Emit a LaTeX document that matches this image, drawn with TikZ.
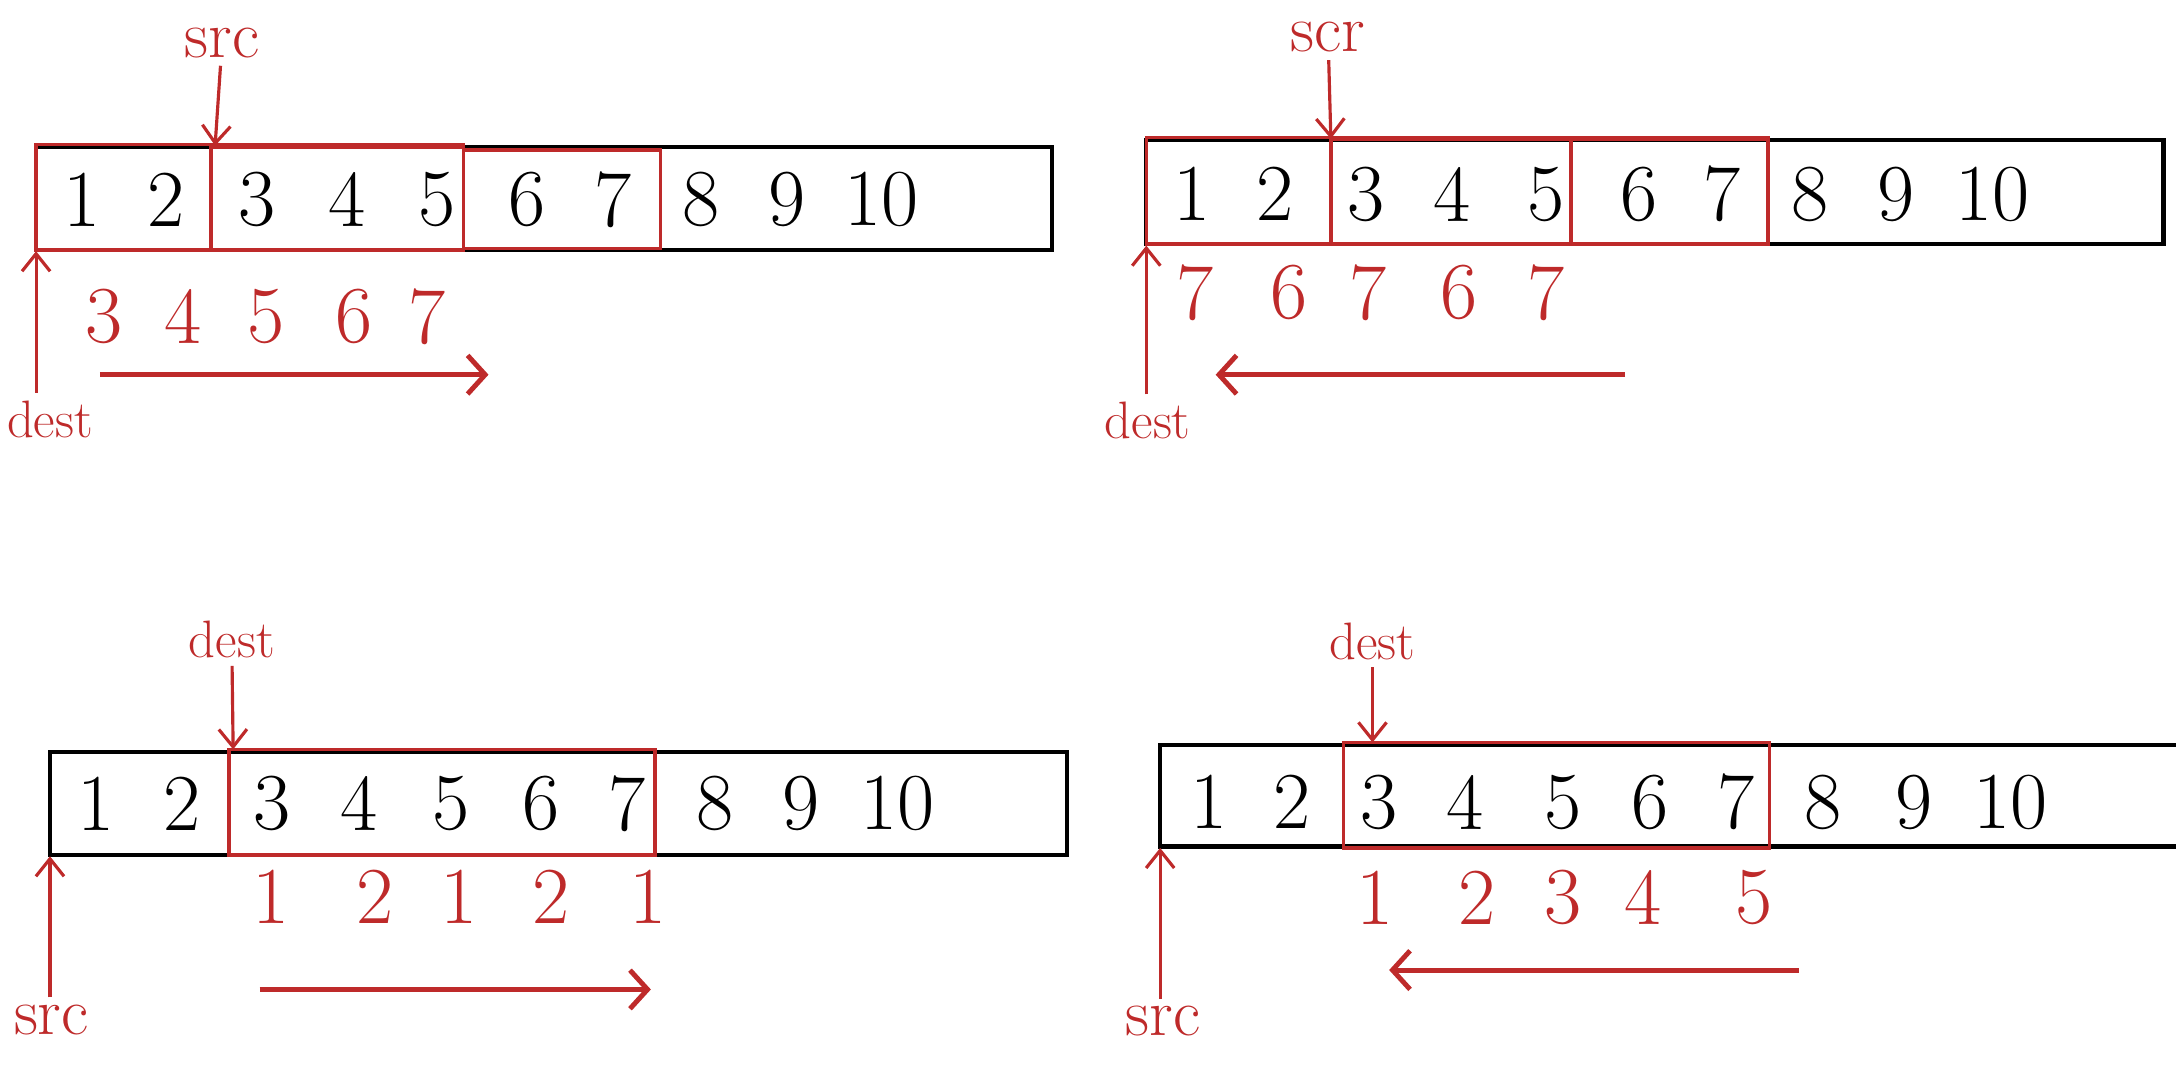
\documentclass[tikz,border=0pt]{standalone}
\usetikzlibrary{arrows.meta}
\definecolor{pen}{RGB}{190,42,42}
\begin{document}
\begin{tikzpicture}[x=0.013878cm,y=-0.013878cm,
  cellbox/.style={draw=black, line width=1.2pt},
  hl/.style={draw=pen, line width=1pt},
  num/.style={font=\fontsize{23}{27}\selectfont, inner sep=0pt},
  rnum/.style={num, text=pen},
  lbl/.style={font=\fontsize{19}{22}\selectfont, text=pen, inner sep=2pt},
  dlbl/.style={lbl, font=\fontsize{15}{18}\selectfont},
  ptr/.style={draw=pen, line width=0.9pt, -{Straight Barb[length=5pt,width=8pt]}},
  flow/.style={draw=pen, line width=1.4pt, -{Straight Barb[length=5pt,width=11pt]}}]
\useasboundingbox (0,0) rectangle (1568,778.2);

% ---------- panel 1 ----------
\draw[cellbox] (26,106) rectangle (758,180);
\draw[hl] (26,104) rectangle (334,180);
\draw[hl] (152,106) rectangle (334,180);
\draw[hl] (334,108) rectangle (476,179);
\foreach \x/\t [count=\i] in {59/1,120/2,185/3,250/4,315/5,380/6,442/7,505/8,567/9,635/10}
  \node[num] (pa\i) at (\x,144) {\t};
\node[lbl] (pasrc) at (160,31) {src};
\coordinate (pas) at (155,105);
\draw[ptr] (pasrc) -- (pas);
\node[dlbl] (padest) at (36,302) {dest};
\coordinate (pad) at (26,181);
\draw[ptr] (padest.north -| pad) -- (pad);
\foreach \x/\t [count=\i] in {75/3,132/4,192/5,255/6,308/7}
  \node[rnum] (pr\i) at (\x,228) {\t};
\coordinate (paf1) at (72,270);
\coordinate (paf2) at (352,270);
\draw[flow] (paf1) -- (paf2);

% ---------- panel 2 ----------
\draw[cellbox] (826,101) rectangle (1559,176);
\draw[hl] (826,99) rectangle (1274,176);
\draw[hl] (959,100) rectangle (1132,176);
\draw[hl] (1132,100) rectangle (1274,176);
\foreach \x/\t [count=\i] in {859/1,919/2,984/3,1046/4,1114/5,1181/6,1241/7,1304/8,1366/9,1436/10}
  \node[num] (pb\i) at (\x,140) {\t};
\node[lbl] (pbscr) at (957,27) {scr};
\coordinate (pbs) at (959,100);
\draw[ptr] (pbscr) -- (pbs);
\node[dlbl] (pbdest) at (827,303) {dest};
\coordinate (pbd) at (826,177);
\draw[ptr] (pbdest.north -| pbd) -- (pbd);
\foreach \x/\t [count=\i] in {861/7,929/6,986/7,1051/6,1114/7}
  \node[rnum] (qr\i) at (\x,211) {\t};
\coordinate (pbf1) at (1171,270);
\coordinate (pbf2) at (876,270);
\draw[flow] (pbf1) -- (pbf2);

% ---------- panel 3 ----------
\draw[cellbox] (36,542) rectangle (769,616);
\draw[hl] (165,540) rectangle (472,616);
\foreach \x/\t [count=\i] in {69/1,131/2,196/3,259/4,325/5,390/6,452/7,515/8,577/9,647/10}
  \node[num] (pc\i) at (\x,579) {\t};
\node[dlbl] (pcdest) at (167,461) {dest};
\coordinate (pcd) at (168,540);
\draw[ptr] (pcdest) -- (pcd);
\node[lbl] (pcsrc) at (37,735) {src};
\coordinate (pcs) at (36,617);
\draw[ptr] (pcsrc.north -| pcs) -- (pcs);
\foreach \x/\t [count=\i] in {195/1,270/2,331/1,397/2,467/1}
  \node[rnum] (sr\i) at (\x,646) {\t};
\coordinate (pcf1) at (187,713);
\coordinate (pcf2) at (469,713);
\draw[flow] (pcf1) -- (pcf2);

% ---------- panel 4 ----------
\draw[cellbox] (1572,537) -- (836,537) -- (836,610) -- (1572,610);
\draw[hl] (968,535) rectangle (1275,611);
\foreach \x/\t [count=\i] in {871/1,931/2,994/3,1056/4,1126/5,1189/6,1251/7,1314/8,1379/9,1449/10}
  \node[num] (pd\i) at (\x,578) {\t};
\node[dlbl] (pddest) at (989,462) {dest};
\coordinate (pdd) at (989,535);
\draw[ptr] (pddest) -- (pdd);
\node[lbl] (pdsrc) at (838,736) {src};
\coordinate (pds) at (836,611);
\draw[ptr] (pdsrc.north -| pds) -- (pds);
\foreach \x/\t [count=\i] in {991/1,1064/2,1126/3,1184/4,1264/5}
  \node[rnum] (tr\i) at (\x,647) {\t};
\coordinate (pdf1) at (1296,699);
\coordinate (pdf2) at (1001,699);
\draw[flow] (pdf1) -- (pdf2);
\end{tikzpicture}
\end{document}
